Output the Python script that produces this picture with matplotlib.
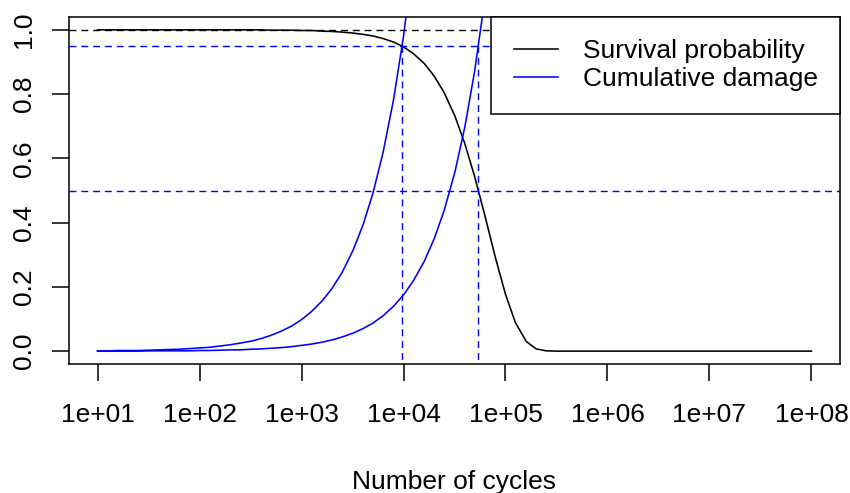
import matplotlib
matplotlib.use("Agg")
import matplotlib.pyplot as plt

plt.rcParams['font.family'] = ['Liberation Sans', 'DejaVu Sans']

# cycles grid (about ten readings per decade)
cycles = [10, 12.5, 16, 20, 25, 32, 40, 50, 63, 80,
          100, 125, 160, 200, 250, 320, 400, 500, 630, 800,
          1000, 1250, 1600, 2000, 2500, 3200, 4000, 5000, 6300, 8000,
          10000, 12500, 16000, 20000, 25000, 32000, 40000, 50000, 63000, 80000,
          100000, 125000, 160000, 200000, 250000, 320000, 400000, 500000,
          1e6, 1e7, 1e8]

survival = [1.000, 1.000, 1.000, 1.000, 1.000, 1.000, 1.000, 1.000, 1.000, 1.000,
            1.000, 1.000, 1.000, 1.000, 1.000, 1.000, 1.000, 0.999, 0.999, 0.999,
            0.998, 0.998, 0.996, 0.995, 0.993, 0.990, 0.986, 0.981, 0.973, 0.962,
            0.947, 0.926, 0.895, 0.856, 0.805, 0.731, 0.645, 0.542, 0.420, 0.289,
            0.177, 0.089, 0.030, 0.007, 0.001, 0.000, 0.000, 0.000,
            0.000, 0.000, 0.000]

# the two damage curves leave the top of the plot, so they are shorter
damage_a = [0.001, 0.001, 0.002, 0.002, 0.002, 0.003, 0.004, 0.005, 0.006, 0.008,
            0.010, 0.012, 0.016, 0.020, 0.025, 0.031, 0.039, 0.049, 0.062, 0.078,
            0.098, 0.123, 0.157, 0.196, 0.245, 0.314, 0.392, 0.490, 0.618, 0.784,
            0.980, 1.225]
damage_b = [0.000, 0.000, 0.000, 0.000, 0.000, 0.001, 0.001, 0.001, 0.001, 0.001,
            0.002, 0.002, 0.003, 0.004, 0.004, 0.006, 0.007, 0.009, 0.011, 0.014,
            0.018, 0.022, 0.028, 0.035, 0.044, 0.056, 0.070, 0.087, 0.110, 0.140,
            0.175, 0.219, 0.280, 0.350, 0.437, 0.559, 0.699, 0.874, 1.101]

h_black = 1.0
h_blue = [0.95, 0.5]
v_blue = [9660, 54300]

xticks = [1e1, 1e2, 1e3, 1e4, 1e5, 1e6, 1e7, 1e8]
xlabels = ['1e+01', '1e+02', '1e+03', '1e+04', '1e+05', '1e+06', '1e+07', '1e+08']
yticks = [0.0, 0.2, 0.4, 0.6, 0.8, 1.0]
ylabels = ['0.0', '0.2', '0.4', '0.6', '0.8', '1.0']

fs = 19

fig = plt.figure(figsize=(8.5, 4.93), dpi=100)
ax = fig.add_axes([69/850, 129/493, 771/850, 347/493])

ax.set_xscale('log')
ax.set_xlim(10**0.72, 10**8.28)
ax.set_ylim(-0.04, 1.04)

l1, = ax.plot(cycles, survival, color='black', lw=1.15)
l2, = ax.plot(cycles[:len(damage_a)], damage_a, color='#0000ff', lw=1.15)
ax.plot(cycles[:len(damage_b)], damage_b, color='#0000ff', lw=1.15)

dash = (5, 3.5)
ax.axhline(h_black, color='black', lw=1.0, dashes=dash)
for h in h_blue:
    ax.axhline(h, color='#0000ff', lw=1.0, dashes=dash)
ax.vlines(v_blue, -0.1, 0.95, color='#0000ff', lw=1.0, linestyles=[(0, dash)])

ax.set_xticks(xticks)
ax.set_xticklabels(xlabels)
ax.minorticks_off()
ax.set_yticks(yticks)
ax.set_yticklabels(ylabels, rotation=90, va='center')
ax.tick_params(axis='both', length=12, width=1.1, labelsize=fs, color='black')
ax.tick_params(axis='x', pad=16)
ax.tick_params(axis='y', pad=12)
for s in ax.spines.values():
    s.set_linewidth(1.1)

ax.set_xlabel('Number of cycles', fontsize=fs, labelpad=31)

leg = ax.legend([l1, l2], ['Survival probability', 'Cumulative damage'],
                loc='upper right', borderaxespad=0, fontsize=fs,
                fancybox=False, edgecolor='black', framealpha=1,
                handlelength=1.66, handletextpad=0.95, borderpad=0.85,
                labelspacing=0.15)
leg.get_frame().set_linewidth(1.1)

fig.savefig('out.png', dpi=100)
